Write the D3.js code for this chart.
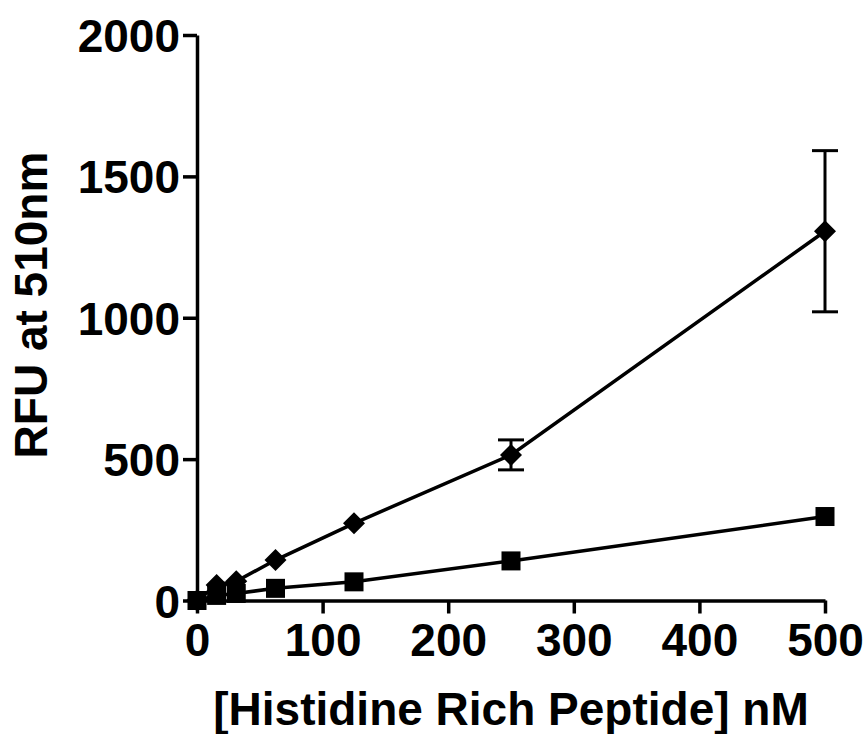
<!DOCTYPE html>
<html>

<head>
    <meta charset="utf-8">
    <title>RFU vs peptide</title>
    <style>
        body { margin: 0; background: #fff; }
        text { font-family: "Liberation Sans", Arial, sans-serif; font-weight: bold; }
    </style>
</head>

<body>
    <script src='https://d3js.org/d3.v7.min.js'></script>
    <script>
    // concentrations in nM (two-fold dilution series)
    var concentrations = [0, 15.625, 31.25, 62.5, 125, 250, 500];
    // diamond series, mean and error (SD)
    var diamondRFU = [0, 55, 68, 143, 273, 515, 1306];
    var diamondErr = [0, 0, 0, 0, 0, 53, 285];
    // square series
    var squareRFU = [0, 18, 25, 43, 66, 140, 297];

    var xTicks = [0, 100, 200, 300, 400, 500];
    var yTicks = [0, 500, 1000, 1500, 2000];

    const width = 865;
    const height = 734;

    var x = d3.scaleLinear().domain([0, 500]).range([197, 825]);
    var y = d3.scaleLinear().domain([0, 2000]).range([600.5, 35]);

    var svg = d3.select("body")
        .append("svg")
        .attr("width", width)
        .attr("height", height);

    // axes
    var xAxis = svg.append("g")
        .attr("transform", "translate(0," + y(0) + ")")
        .call(d3.axisBottom(x).tickValues(xTicks).tickFormat(d3.format("d"))
            .tickSize(13).tickSizeOuter(0).tickPadding(9));

    var yAxis = svg.append("g")
        .attr("transform", "translate(" + x(0) + ",0)")
        .call(d3.axisLeft(y).tickValues(yTicks).tickFormat(d3.format("d"))
            .tickSize(14).tickSizeOuter(0).tickPadding(3));

    [xAxis, yAxis].forEach(function(a) {
        a.select(".domain").attr("stroke", "#000").attr("stroke-width", 3.5);
        a.selectAll(".tick line").attr("stroke", "#000").attr("stroke-width", 3.5);
        a.selectAll(".tick text")
            .attr("fill", "#000")
            .style("font-size", "46px")
            .style("font-family", "'Liberation Sans', Arial, sans-serif")
            .style("font-weight", "bold");
    });
    xAxis.selectAll(".tick text").attr("dy", "0.72em");
    yAxis.selectAll(".tick text").attr("dy", "0.36em");

    // axis titles
    svg.append("text")
        .attr("x", 511)
        .attr("y", 725)
        .style("text-anchor", "middle")
        .style("font-size", "46px")
        .text("[Histidine Rich Peptide] nM");

    svg.append("text")
        .attr("transform", "translate(47,305) rotate(-90)")
        .style("text-anchor", "middle")
        .style("font-size", "46px")
        .text("RFU at 510nm");

    var line = d3.line()
        .x(function(d) { return x(d[0]); })
        .y(function(d) { return y(d[1]); });

    var squarePts = concentrations.map(function(c, i) { return [c, squareRFU[i]]; });
    var diamondPts = concentrations.map(function(c, i) { return [c, diamondRFU[i], diamondErr[i]]; });

    // square series
    svg.append("path")
        .datum(squarePts)
        .attr("fill", "none")
        .attr("stroke", "#000")
        .attr("stroke-width", 3.5)
        .attr("d", line);

    // diamond series
    svg.append("path")
        .datum(diamondPts)
        .attr("fill", "none")
        .attr("stroke", "#000")
        .attr("stroke-width", 3.5)
        .attr("d", line);

    // error bars
    var eb = svg.selectAll(".err")
        .data(diamondPts.filter(function(d) { return d[2] > 0; }))
        .enter()
        .append("g")
        .attr("class", "err")
        .attr("stroke", "#000")
        .attr("stroke-width", 3);

    eb.append("line")
        .attr("x1", function(d) { return x(d[0]); })
        .attr("x2", function(d) { return x(d[0]); })
        .attr("y1", function(d) { return y(d[1] + d[2]); })
        .attr("y2", function(d) { return y(d[1] - d[2]); });
    eb.append("line")
        .attr("x1", function(d) { return x(d[0]) - 13; })
        .attr("x2", function(d) { return x(d[0]) + 13; })
        .attr("y1", function(d) { return y(d[1] + d[2]); })
        .attr("y2", function(d) { return y(d[1] + d[2]); });
    eb.append("line")
        .attr("x1", function(d) { return x(d[0]) - 13; })
        .attr("x2", function(d) { return x(d[0]) + 13; })
        .attr("y1", function(d) { return y(d[1] - d[2]); })
        .attr("y2", function(d) { return y(d[1] - d[2]); });

    // markers
    svg.selectAll(".sq")
        .data(squarePts)
        .enter()
        .append("rect")
        .attr("class", "sq")
        .attr("x", function(d) { return x(d[0]) - 9.5; })
        .attr("y", function(d) { return y(d[1]) - 9.5; })
        .attr("width", 19)
        .attr("height", 19)
        .attr("fill", "#000");

    svg.selectAll(".dm")
        .data(diamondPts)
        .enter()
        .append("path")
        .attr("class", "dm")
        .attr("transform", function(d) { return "translate(" + x(d[0]) + "," + y(d[1]) + ")"; })
        .attr("d", "M0,-11L11,0L0,11L-11,0Z")
        .attr("fill", "#000");
    </script>
</body>

</html>
